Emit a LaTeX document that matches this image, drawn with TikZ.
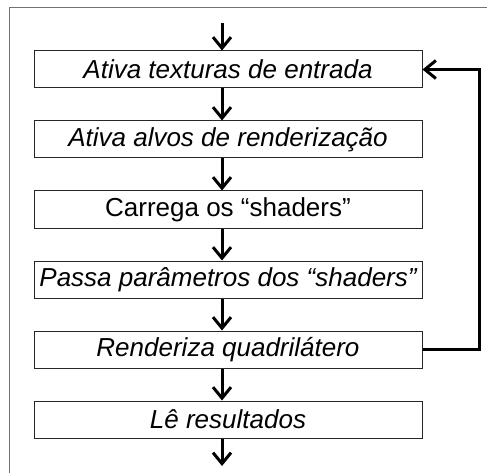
\documentclass[tikz,border=0pt]{standalone}
\usepackage{fontspec}
\setmainfont{Liberation Sans}
\usetikzlibrary{positioning,arrows.meta}

\begin{document}
\begin{tikzpicture}[
	passo/.style={draw=black!85, line width=1pt, minimum width=388pt, minimum height=37pt, inner sep=0pt, font=\fontsize{26}{30}\selectfont\itshape},
	seta/.style={line width=3pt, -{Straight Barb[length=11pt,width=18pt]}},
	node distance=32pt]
	\clip (0,0) rectangle (487pt,-473pt);
	\draw[black!55, line width=1pt] (9pt,-8pt) rectangle (540pt,-540pt);

	\node[passo] (tex) at (228pt,-69.5pt) {Ativa texturas de entrada};
	\node[passo, below=of tex] (alvos) {Ativa alvos de renderização};
	\node[passo, below=of alvos, font=\fontsize{26}{30}\selectfont] (shd) {Carrega os “shaders”};
	\node[passo, below=of shd] (param) {Passa parâmetros dos “shaders”};
	\node[passo, below=of param] (quad) {Renderiza quadrilátero};
	\node[passo, below=of quad] (res) {Lê resultados};
	\coordinate (ini) at (222pt,-23pt);
	\coordinate (fim) at (222pt,-466pt);

	\draw[seta] (ini) -- (tex.north -| ini);
	\draw[seta] ([xshift=-6pt]tex.south) -- ([xshift=-6pt]alvos.north);
	\draw[seta] ([xshift=-6pt]alvos.south) -- ([xshift=-6pt]shd.north);
	\draw[seta] ([xshift=-6pt]shd.south) -- ([xshift=-6pt]param.north);
	\draw[seta] ([xshift=-6pt]param.south) -- ([xshift=-6pt]quad.north);
	\draw[seta] ([xshift=-6pt]quad.south) -- ([xshift=-6pt]res.north);
	\draw[seta] (res.south -| fim) -- (fim);
	% volta
	\draw[seta] (quad.east) -- ++(57pt,0) |- (tex.east);
\end{tikzpicture}
\end{document}
